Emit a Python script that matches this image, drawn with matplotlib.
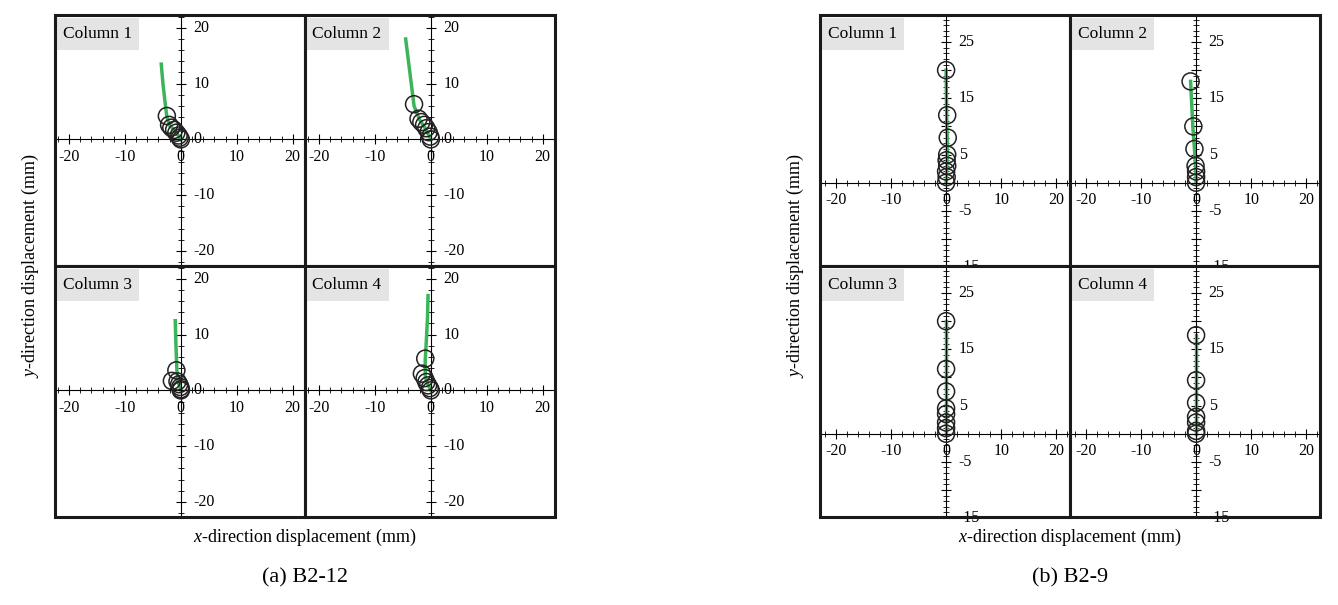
import numpy as np
import matplotlib.pyplot as plt
from matplotlib.ticker import MultipleLocator

plt.rcParams['font.family'] = 'Liberation Serif'
plt.rcParams['axes.unicode_minus'] = False
plt.rcParams['mathtext.fontset'] = 'custom'
plt.rcParams['mathtext.it'] = 'Liberation Serif:italic'

# (a) B2-12 : green trace (x, y) and circle markers (x, y)
a_line_x = [[-3.5, -3.2, -2.8, -2.5, -2.0, -1.0, 0.0],
            [-4.5, -4.0, -3.5, -3.0, -2.0, -1.0, 0.0],
            [-1.0, -0.9, -0.8, -0.7, -0.5, -0.2, 0.0],
            [-0.5, -0.6, -0.8, -1.0, -1.0, -0.5, 0.0]]
a_line_y = [[13.5, 10.0, 6.5, 4.0, 2.5, 1.5, 0.0],
            [18.0, 14.0, 10.0, 6.0, 3.5, 2.0, 0.0],
            [12.5, 9.0, 6.0, 3.5, 1.5, 0.8, 0.0],
            [17.0, 13.0, 9.0, 5.5, 2.5, 1.0, 0.0]]
a_pt_x = [[-2.5, -2.1, -1.7, -1.2, -0.8, -0.4, -0.2, 0.0],
          [-3.0, -2.2, -1.7, -1.2, -0.8, -0.4, -0.1, 0.0],
          [-0.8, -1.6, -0.6, -0.3, -0.1, 0.0, 0.0],
          [-1.0, -1.6, -1.1, -0.8, -0.5, -0.2, 0.0]]
a_pt_y = [[4.2, 2.6, 2.1, 1.7, 1.2, 0.7, 0.3, 0.0],
          [6.3, 3.7, 3.1, 2.6, 2.0, 1.3, 0.5, 0.0],
          [3.6, 1.7, 1.6, 1.1, 0.6, 0.2, 0.0],
          [5.7, 3.0, 2.2, 1.5, 0.9, 0.4, 0.0]]
a_ylabels = [20, 10, 0, -10, -20]

# (b) B2-9
b_line_x = [[0.0, 0.1, 0.2, 0.2, 0.1, 0.0],
            [-1.0, -0.6, -0.3, -0.1, 0.0, 0.0],
            [0.0, 0.0, 0.0, 0.0, 0.0, 0.0],
            [0.0, 0.0, 0.0, 0.0, 0.0, 0.0]]
b_line_y = [[20.0, 12.0, 8.0, 4.0, 1.5, 0.0],
            [18.0, 10.0, 6.0, 3.0, 1.0, 0.0],
            [20.0, 11.5, 7.5, 4.0, 1.5, 0.0],
            [17.5, 9.5, 5.5, 3.0, 1.0, 0.0]]
b_pt_x = [[0.0, 0.2, 0.3, 0.2, 0.1, 0.2, 0.0, 0.1, 0.0],
          [-1.0, -0.5, -0.3, -0.1, 0.0, 0.0, 0.0],
          [0.0, 0.0, 0.0, 0.0, 0.0, 0.0, 0.0, 0.0],
          [0.0, 0.0, 0.0, 0.0, 0.0, 0.0, 0.0]]
b_pt_y = [[20.0, 12.0, 8.0, 5.0, 4.0, 3.0, 2.0, 1.0, 0.0],
          [18.0, 10.0, 6.0, 3.0, 2.0, 1.0, 0.0],
          [20.0, 11.5, 7.5, 4.5, 3.5, 2.0, 1.0, 0.0],
          [17.5, 9.5, 5.5, 3.0, 2.0, 0.5, 0.0]]
b_ylabels = [25, 15, 5, -5, -15]

titles = ['Column 1', 'Column 2', 'Column 3', 'Column 4']
W, H = 1338, 605
fig = plt.figure(figsize=(W / 100, H / 100), dpi=100)


def panel(x0, lx, ly, px, py, xlim, ylim, ymaj, yminor, ylabels, caption):
    w, h = 250, 251
    y0 = 15
    for i in range(4):
        r, c = divmod(i, 2)
        ax = fig.add_axes([(x0 + c * w) / W, 1 - (y0 + (r + 1) * h) / H, w / W, h / H])
        ax.set_xlim(*xlim)
        ax.set_ylim(*ylim)
        ax.spines['left'].set_position('zero')
        ax.spines['bottom'].set_position('zero')
        ax.spines['right'].set_visible(False)
        ax.spines['top'].set_visible(False)
        ax.spines['left'].set_linewidth(0.8)
        ax.spines['bottom'].set_linewidth(0.8)
        ax.xaxis.set_major_locator(MultipleLocator(10))
        ax.xaxis.set_minor_locator(MultipleLocator(2))
        ax.yaxis.set_major_locator(MultipleLocator(ymaj))
        ax.yaxis.set_minor_locator(MultipleLocator(yminor))
        ax.tick_params(which='both', direction='inout', labelsize=11.5)
        ax.tick_params(which='major', length=7)
        ax.tick_params(which='minor', length=4)
        ax.tick_params(axis='y', labelleft=False)
        for v in ylabels:
            ax.annotate(str(v), (0, v), xytext=(9, 0), textcoords='offset points',
                        ha='left', va='center', fontsize=11.5, annotation_clip=False)
        ax.plot(lx[i], ly[i], color='#3cb45a', lw=2.5, zorder=2)
        ax.scatter(px[i], py[i], s=150, facecolors='none', edgecolors='#222222', lw=1.1, zorder=3)
        ax.text(0.03, 0.955, titles[i], transform=ax.transAxes, fontsize=12.5, va='top',
                bbox=dict(boxstyle='square,pad=0.45', fc='#e4e4e4', ec='none'))
        # frame
        ax.add_patch(plt.Rectangle((0, 0), 1, 1, transform=ax.transAxes, fill=False,
                                   lw=2.2, ec='#1a1a1a', clip_on=False, zorder=5))
    fig.text((x0 + w) / W, 1 - 537 / H, '$x$-direction displacement (mm)', ha='center',
             va='center', fontsize=13)
    fig.text((x0 - 25) / W, 1 - (y0 + h) / H, '$y$-direction displacement (mm)', ha='center',
             va='center', rotation=90, fontsize=13)
    fig.text((x0 + w) / W, 1 - 578 / H, caption, ha='center', va='center', fontsize=16)


panel(55, a_line_x, a_line_y, a_pt_x, a_pt_y, (-22.5, 22.2), (-22.7, 22.3), 10, 2,
      a_ylabels, '(a) B2-12')
panel(820, b_line_x, b_line_y, b_pt_x, b_pt_y, (-22.9, 22.5), (-14.8, 29.8), 5, 1,
      b_ylabels, '(b) B2-9')

fig.savefig('out.png', dpi=100)
